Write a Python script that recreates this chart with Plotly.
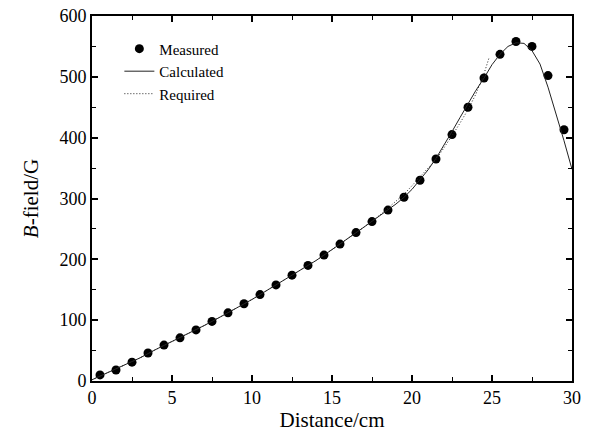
import plotly.graph_objects as go

# Measured data
meas_x = [0.5, 1.5, 2.5, 3.5, 4.5, 5.5, 6.5, 7.5, 8.5, 9.5, 10.5, 11.5, 12.5, 13.5, 14.5,
          15.5, 16.5, 17.5, 18.5, 19.5, 20.5, 21.5, 22.5, 23.5, 24.5, 25.5, 26.5, 27.5, 28.5, 29.5]
meas_y = [10, 18, 31, 46, 59, 71, 84, 98, 112, 127, 142, 158, 174, 190, 207,
          225, 244, 262, 281, 302, 330, 365, 405, 450, 498, 537, 558, 550, 502, 413]

# Calculated curve
calc_x = [0, 1, 2, 3, 4, 5, 6, 7, 8, 9, 10, 11, 12, 13, 14, 15, 16, 17, 18, 18.5, 19, 19.5,
          20, 20.5, 21, 21.5, 22, 22.5, 23, 23.5, 24, 24.5, 25, 25.5, 26, 26.5, 27, 27.5,
          28, 28.5, 29, 29.5, 30]
calc_y = [2, 14, 25, 38, 52, 65, 77, 91, 105, 119, 134, 150, 166, 182, 198, 216, 234, 253, 272, 281, 291, 302,
          315, 331, 347, 366, 387, 410, 433, 456, 478, 498, 520, 537, 550, 556, 555, 543,
          521, 483, 440, 395, 348]

# Required curve
req_x = [0, 1, 2, 3, 4, 5, 6, 7, 8, 9, 10, 11, 12, 13, 14, 15, 16, 17, 18, 18.5, 19, 19.5,
         20, 20.5, 21, 21.5, 22, 22.5, 23, 23.5, 24, 24.2, 24.5, 24.8]
req_y = [2, 14, 25, 38, 52, 65, 77, 91, 105, 119, 134, 150, 166, 182, 198, 216, 234, 253, 273, 284, 295, 307,
         321, 336, 350, 364, 383, 403, 424, 446, 472, 485, 505, 530]

FONT = "Liberation Serif"

fig = go.Figure()
fig.add_trace(go.Scatter(x=meas_x, y=meas_y, mode="markers", name="Measured",
                         marker=dict(color="black", size=9)))
fig.add_trace(go.Scatter(x=calc_x, y=calc_y, mode="lines", name="Calculated",
                         line=dict(color="#222222", width=1)))
fig.add_trace(go.Scatter(x=req_x, y=req_y, mode="lines", name="Required",
                         line=dict(color="#222222", width=1, dash="1px,2px")))

axis_common = dict(showgrid=False, zeroline=False, showline=True, linewidth=1.6, linecolor="black",
                   mirror="ticks", ticks="inside", ticklen=6, tickwidth=1.6, tickcolor="black",
                   automargin=False, ticklabeloverflow="allow",
                   tickfont=dict(family=FONT, size=18, color="black"))

fig.update_layout(
    width=592, height=443,
    margin=dict(l=92, r=20, t=16, b=62),
    paper_bgcolor="white", plot_bgcolor="white",
    font=dict(family=FONT, color="black"),
    showlegend=True,
    legend=dict(x=0.057, y=0.955, xanchor="left", yanchor="top", bgcolor="rgba(0,0,0,0)",
                font=dict(family=FONT, size=15, color="black"), tracegroupgap=0,
                itemsizing="trace"),
    xaxis=dict(range=[0, 30], tick0=0, dtick=5,
               minor=dict(dtick=2.5, ticks="inside", ticklen=4, tickwidth=1.4, tickcolor="black"),
               title=dict(text="Distance/cm", font=dict(family=FONT, size=21), standoff=4),
               **axis_common),
    yaxis=dict(range=[0, 600], tick0=0, dtick=100,
               minor=dict(dtick=50, ticks="inside", ticklen=4, tickwidth=1.4, tickcolor="black"),
               title=dict(text="<i>B</i>-field/G", font=dict(family=FONT, size=21), standoff=15),
               **axis_common),
)

fig.write_html("out.html",
               config={"displayModeBar": False},
               post_script="document.body.style.margin='0';document.body.style.padding='0';")
